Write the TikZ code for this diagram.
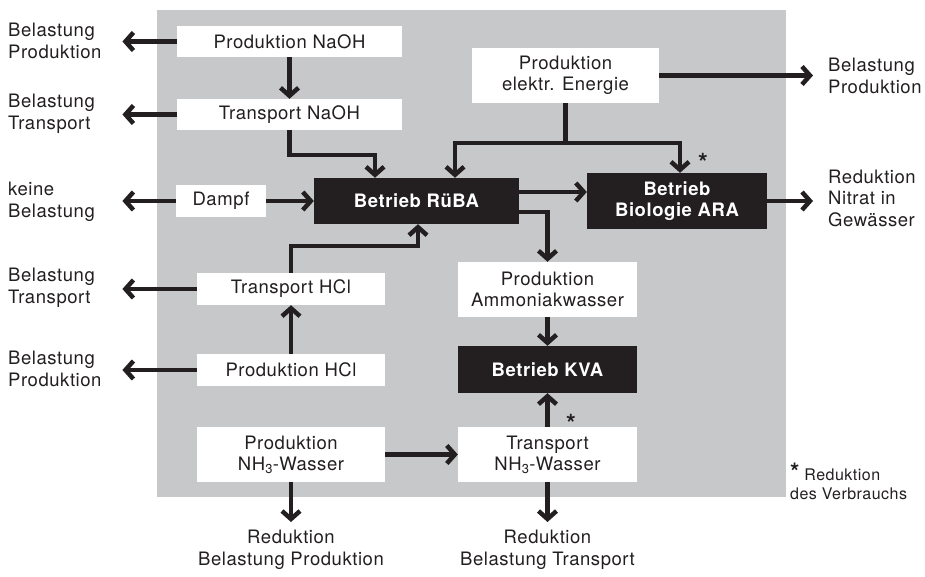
\documentclass[tikz,border=0pt]{standalone}
\usepackage{fontspec}
\setmainfont[LetterSpace=3]{TeX Gyre Heros}
\usepackage{xcolor}
\usetikzlibrary{arrows.meta}
\definecolor{grau}{RGB}{199,200,202}
\definecolor{schwarz}{RGB}{35,31,32}

\begin{document}
\begin{tikzpicture}[x=1pt, y=-1pt,
  kasten/.style={fill=white, text=schwarz, inner sep=0pt, align=center, font=\fontsize{18.5}{21}\selectfont},
  betrieb/.style={fill=schwarz, text=white, inner sep=0pt, align=center, font=\fontsize{18.5}{21}\selectfont\bfseries},
  aussen/.style={inner sep=0pt, text=schwarz, font=\fontsize{18.5}{21.5}\selectfont},
  pfeil/.style={draw=schwarz, line width=4.5pt, -{Straight Barb[length=8pt,width=18pt]}},
  linie/.style={draw=schwarz, line width=4.5pt},
  stern/.style={inner sep=0pt, text=schwarz, font=\fontsize{25}{25}\selectfont\bfseries}]
\useasboundingbox (0,0) rectangle (925,577);
\fill[grau] (157,10) rectangle (786,497);

% Kaesten
\node[kasten, minimum width=225pt, minimum height=31pt] (pnaoh) at (289.5,41.5) {Produktion NaOH};
\node[kasten, minimum width=225pt, minimum height=31pt] (tnaoh) at (289.5,114.5) {Transport NaOH};
\node[kasten, minimum width=90pt, minimum height=32pt] (dampf) at (221,201) {Dampf};
\node[betrieb, minimum width=205pt, minimum height=46pt] (ruba) at (416.5,201) {Betrieb RüBA};
\node[kasten, minimum width=187pt, minimum height=55pt] (energie) at (565.5,75.5) {Produktion\\elektr. Energie};
\node[betrieb, minimum width=180pt, minimum height=56pt] (ara) at (677,201) {Betrieb\\Biologie ARA};
\node[kasten, minimum width=188pt, minimum height=32pt] (thcl) at (291,289) {Transport HCl};
\node[kasten, minimum width=188pt, minimum height=32pt] (phcl) at (291,370) {Produktion HCl};
\node[kasten, minimum width=188pt, minimum height=55pt] (pnh3) at (291,454.5) {Produktion\\NH\textsubscript{3}-Wasser};
\node[kasten, minimum width=179pt, minimum height=55pt] (ammo) at (547.5,289.5) {Produktion\\Ammoniakwasser};
\node[betrieb, minimum width=179pt, minimum height=47pt] (kva) at (547.5,369.5) {Betrieb KVA};
\node[kasten, minimum width=179pt, minimum height=55pt] (tnh3) at (547.5,454.5) {Transport\\NH\textsubscript{3}-Wasser};

% Verbindungen innen
\draw[pfeil] (pnaoh) -- (tnaoh);
\draw[pfeil] (tnaoh.south) -- ++(0,25) -| ([xshift=-41.5pt]ruba.north);
\draw[linie] (energie.south) -- ++(0,40) coordinate (ek);
\draw[pfeil] (ek) -| ([xshift=38.5pt]ruba.north);
\draw[pfeil] (ek) -| ([xshift=3pt]ara.north);
\draw[pfeil] (dampf) -- (ruba);
\draw[pfeil] ([yshift=9pt]ruba.east) coordinate (r1) -- (r1 -| ara.west);
\draw[pfeil] ([yshift=-11pt]ruba.east) -| (ammo.north);
\draw[pfeil] (thcl.north) -- ++(0,-27) -| ([xshift=1.5pt]ruba.south);
\draw[pfeil] (phcl) -- (thcl);
\draw[pfeil] (ammo) -- (kva);
\draw[pfeil] (tnh3) -- (kva);
\draw[pfeil] (pnh3) -- (tnh3);
\node[stern] (s1) at (703,172) {\smash{*}};
\node[stern] (s2) at (571,432) {\smash{*}};

% Belastungen links
\node[aussen, anchor=west, text width=114pt, align=left] (bl1) at (8,41) {Belastung\\Produktion};
\node[aussen, anchor=west, text width=114pt, align=left] (bl2) at (8,114) {Belastung\\Transport};
\node[aussen, anchor=west, text width=114pt, align=left] (bl3) at (8,202) {keine\\Belastung};
\node[aussen, anchor=west, text width=114pt, align=left] (bl4) at (8,288) {Belastung\\Transport};
\node[aussen, anchor=west, text width=114pt, align=left] (bl5) at (8,369) {Belastung\\Produktion};
\draw[pfeil] (pnaoh.west) -- (pnaoh.west -| bl1.east);
\draw[pfeil] (tnaoh.west) -- (tnaoh.west -| bl2.east);
\draw[pfeil] (dampf.west) -- (dampf.west -| bl3.east);
\draw[pfeil] (thcl.west) -- (thcl.west -| bl4.east);
\draw[pfeil] (phcl.west) -- (phcl.west -| bl5.east);

% rechts und unten
\node[aussen, anchor=west, inner xsep=15pt, align=left] (br) at (813,76) {Belastung\\Produktion};
\node[aussen, anchor=west, inner xsep=15pt, align=left] (rn) at (813,198) {Reduktion\\Nitrat in\\Gewässer};
\draw[pfeil] (energie.east) -- (energie.east -| br.west);
\draw[pfeil] (ara.east) -- (ara.east -| rn.west);
\node[aussen, anchor=north, inner ysep=8pt, align=center] (rbp) at (291,522) {Reduktion\\Belastung Produktion};
\node[aussen, anchor=north, inner ysep=8pt, align=center] (rbt) at (547.5,522) {Reduktion\\Belastung Transport};
\draw[pfeil] (pnh3.south) -- (rbp.north);
\draw[pfeil] (tnh3.south) -- (rbt.north);

\node[aussen, anchor=north west, align=left, font=\fontsize{16}{19}\selectfont] (fn) at (790,463) {{\fontsize{24}{19}\selectfont\bfseries *} Reduktion\\des Verbrauchs};
\end{tikzpicture}
\end{document}
